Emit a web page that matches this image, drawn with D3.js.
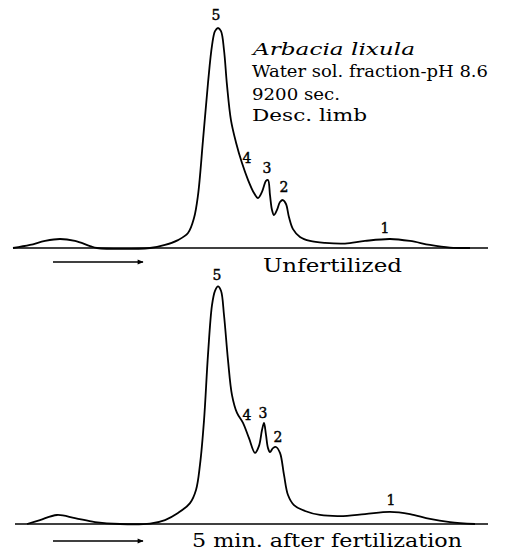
<!DOCTYPE html>
<html>
<head>
<meta charset="utf-8">
<script src="https://cdn.jsdelivr.net/npm/d3@7"></script>
<style>
  body { margin: 0; background: #fff; }
  text { font-family: "DejaVu Serif", serif; fill: #000; }
</style>
</head>
<body>
<div id="chart"></div>
<script>
// distance along cell (arbitrary units) and refractive gradient (arbitrary units)
const unfertX = [0, 3.4, 6.4, 9.4, 12.4, 15.4, 16.8, 27.4, 30.4, 33, 35, 36.2, 37, 38, 39, 39.8, 40.4, 41, 41.6, 42.2, 42.8, 43.6, 44.6, 45.8, 47, 48.2, 49, 49.8, 50.6, 51, 51.4, 51.8, 52.2, 52.8, 53.4, 54, 54.6, 55.2, 56, 57.4, 59.4, 62.4, 66.4, 70.4, 75.4, 79.4, 83.4, 87.4, 91.4];
const unfertY = [0, 1.4, 3.2, 4.1, 3.2, 0.9, 0, 0, 1.4, 3.6, 6.8, 13.6, 24, 49, 75, 92, 98.6, 100, 98.6, 90, 74, 58, 48, 38.6, 31, 25, 22.7, 25.5, 30.5, 30.9, 24, 17.3, 15, 17.3, 20.9, 21.8, 20, 14, 8.6, 5, 3.2, 2.3, 2, 3.2, 4.1, 3.2, 1.4, 0.2, 0];

const fertX = [2.8, 5.4, 8.8, 12.4, 16.4, 21.4, 27.4, 30.4, 33, 35.4, 36.6, 37.4, 38.2, 39, 39.8, 40.4, 41, 41.6, 42.2, 43, 43.8, 44.8, 46, 47.2, 48.4, 49.2, 49.8, 50.2, 50.6, 51, 51.4, 52, 52.6, 53.4, 54.2, 55, 56.2, 58.4, 61.4, 65.4, 70.4, 75.4, 79.4, 83.4, 87.4, 92.4];
const fertY = [0, 1.8, 4.1, 2.7, 0.9, 0, 0.2, 1.8, 5, 9.5, 15.5, 27, 47, 77, 99.5, 106, 108, 106, 95, 74.5, 58.6, 50.5, 46, 39, 32.3, 35.5, 42.7, 45.9, 40.5, 34.5, 32.7, 34.5, 35, 32.3, 22.3, 13.2, 8.6, 5.9, 4.1, 3.6, 4.5, 5.5, 4.5, 2.3, 0.9, 0];

// component labels: [name, x, y]
const unfertPeaks = [["5", 40.6, 103.6], ["4", 46.8, 38.6], ["3", 50.8, 34], ["2", 54.2, 25.5], ["1", 74.4, 6.8]];
const fertPeaks = [["5", 40.8, 111], ["4", 46.8, 47.3], ["3", 50, 48.2], ["2", 53, 37.3], ["1", 75.6, 8.6]];

const species = "Arbacia lixula";
const infoLines = ["Water sol. fraction-pH 8.6", "9200 sec.", "Desc. limb"];
const infoWidths = [236, 88, 115];

const W = 518, H = 556;
const svg = d3.select("#chart").append("svg")
  .attr("width", W).attr("height", H);

svg.append("defs").append("marker")
  .attr("id", "arrow")
  .attr("viewBox", "0 0 10 10")
  .attr("refX", 9).attr("refY", 5)
  .attr("markerWidth", 9).attr("markerHeight", 6)
  .attr("markerUnits", "userSpaceOnUse")
  .attr("orient", "auto")
  .append("path").attr("d", "M0,1 L10,5 L0,9 Z").attr("fill", "#000");

const x = d3.scaleLinear().domain([0, 95]).range([13, 488]);

function panel(xs, ys, peaks, baseY, startX, caption, cap) {
  const y = d3.scaleLinear().domain([0, 100]).range([baseY, baseY - 220]);
  const pts = xs.map((d, i) => [d, ys[i]]);

  svg.append("line")
    .attr("x1", x(startX)).attr("x2", x(95))
    .attr("y1", y(0)).attr("y2", y(0))
    .attr("stroke", "#000").attr("stroke-width", 1.6);

  const line = d3.line()
    .x(d => x(d[0])).y(d => y(d[1]))
    .curve(d3.curveCatmullRom.alpha(0.5));

  svg.append("path")
    .attr("d", line(pts))
    .attr("fill", "none")
    .attr("stroke", "#000")
    .attr("stroke-width", 1.8)
    .attr("stroke-linejoin", "round");

  svg.selectAll(null)
    .data(peaks)
    .enter()
    .append("text")
    .attr("x", d => x(d[1]))
    .attr("y", d => y(d[2]))
    .attr("text-anchor", "middle")
    .style("font-size", "14px")
    .style("stroke", "#000")
    .style("stroke-width", 0.4)
    .text(d => d[0]);

  svg.append("line")
    .attr("x1", x(8)).attr("x2", x(26))
    .attr("y1", cap.arrowY).attr("y2", cap.arrowY)
    .attr("stroke", "#000").attr("stroke-width", 1.3)
    .attr("marker-end", "url(#arrow)");

  svg.append("text")
    .attr("x", cap.x)
    .attr("y", cap.y)
    .attr("textLength", cap.w)
    .attr("lengthAdjust", "spacingAndGlyphs")
    .style("font-size", cap.size + "px")
    .text(caption);
}

panel(unfertX, unfertY, unfertPeaks, 248, 0, "Unfertilized",
  { x: 263, y: 272, w: 139, size: 19, arrowY: 262 });
panel(fertX, fertY, fertPeaks, 524, 0.4, "5 min. after fertilization",
  { x: 192, y: 547, w: 270, size: 18, arrowY: 541 });

svg.append("text")
  .attr("x", 253).attr("y", 55)
  .attr("textLength", 162)
  .attr("lengthAdjust", "spacingAndGlyphs")
  .style("font-size", "17px")
  .style("font-style", "italic")
  .text(species);

svg.selectAll(".info")
  .data(infoLines)
  .enter()
  .append("text")
  .attr("class", "info")
  .attr("x", 252)
  .attr("y", (d, i) => [77, 100, 121][i])
  .attr("textLength", (d, i) => infoWidths[i])
  .attr("lengthAdjust", "spacingAndGlyphs")
  .style("font-size", "17px")
  .text(d => d);
</script>
</body>
</html>
